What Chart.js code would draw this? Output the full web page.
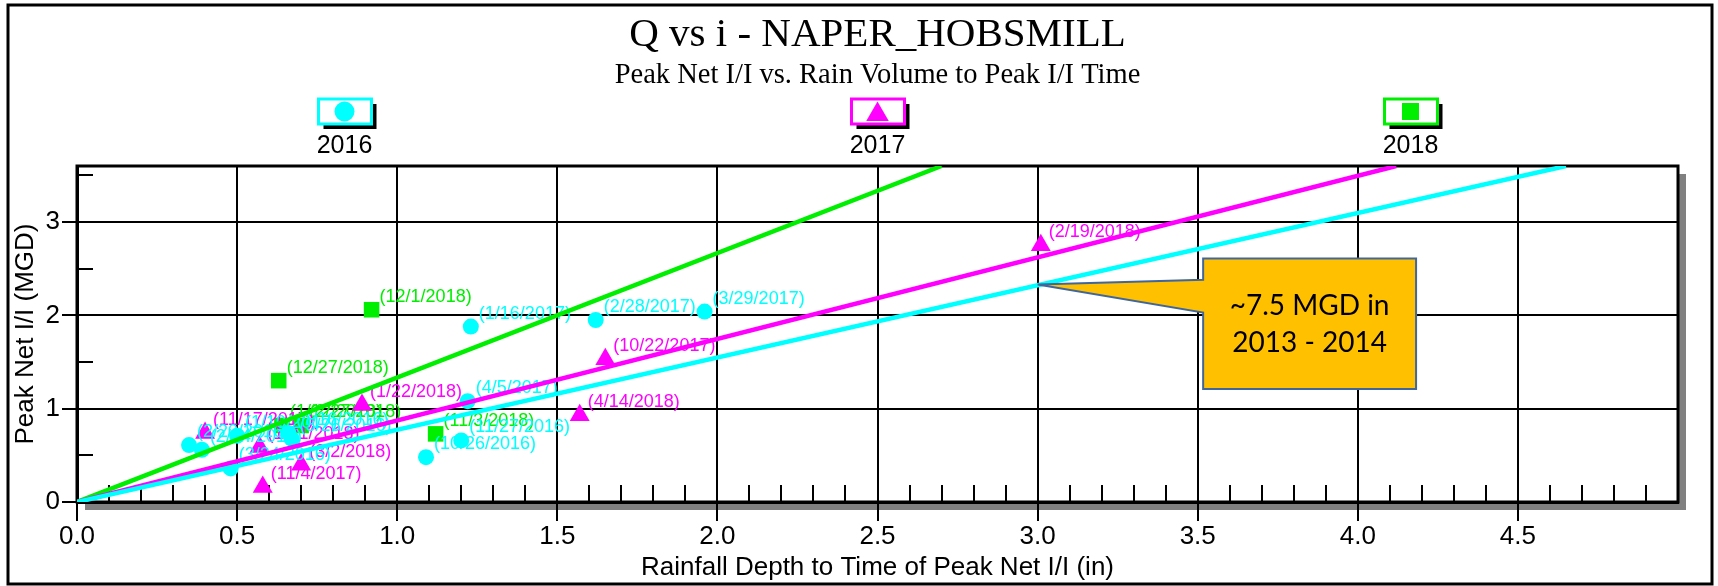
<!DOCTYPE html>
<html>
<head>
<meta charset="utf-8">
<script src="https://cdn.jsdelivr.net/npm/chart.js@4/dist/chart.umd.min.js"></script>
<style>
  html, body { margin: 0; padding: 0; background: #fff; }
  canvas { display: block; }
</style>
</head>
<body>
<canvas id="qvsi" width="1718" height="586"></canvas>
<script>
// Peak Net I/I vs rainfall depth, one series per year
const x2016 = [0.35, 0.39, 0.48, 0.50, 0.66, 0.67, 1.09, 1.20, 1.22, 1.23, 1.62, 1.96];
const y2016 = [0.61, 0.56, 0.36, 0.71, 0.74, 0.68, 0.48, 0.66, 1.08, 1.88, 1.95, 2.04];
const labels2016 = ['(2/20/2016)', '(2/24/2016)', '(3/24/2016)', '(1/10/2017)', '(7/16/2016)', '(5/26/2016)',
    '(10/26/2016)', '(11/27/2016)', '(4/5/2017)', '(1/16/2017)', '(2/28/2017)', '(3/29/2017)'];

const x2017 = [0.40, 0.57, 0.58, 0.70, 0.89, 1.57, 1.65, 3.01];
const y2017 = [0.74, 0.59, 0.16, 0.40, 1.04, 0.93, 1.53, 2.75];
const labels2017 = ['(11/17/2017)', '(1/21/2018)', '(11/4/2017)', '(3/2/2018)', '(1/22/2018)',
    '(4/14/2018)', '(10/22/2017)', '(2/19/2018)'];

const x2018 = [0.63, 0.64, 0.70, 0.92, 1.12];
const y2018 = [1.30, 0.82, 0.82, 2.06, 0.73];
const labels2018 = ['(12/27/2018)', '(1/12/2018)', '(2/27/2018)', '(12/1/2018)', '(11/3/2018)'];

const fit2016 = {x: [0, 4.65], y: [0, 3.6]};
const fit2017 = {x: [0, 4.12], y: [0, 3.6]};
const fit2018 = {x: [0, 2.70], y: [0, 3.6]};

const years = ['2016', '2017', '2018'];
const xTicks = {min: 0, max: 5, step: 0.5};
const yTicks = {min: 0, max: 3.6, step: 1};

// callout: box corners, pointer base and tip, in data units
const calloutText = ['~7.5 MGD in', '2013 - 2014'];
const calloutBox = {x0: 3.517, x1: 4.182, y0: 2.61, y1: 1.212};
const calloutBase = [2.38, 2.03];
const calloutTip = {x: 3.0, y: 2.33};

const CYAN = '#00FFFF';
const MAGENTA = '#FF00FF';
const GREEN = '#00EE00';
const SANS = '"Liberation Sans", Arial, sans-serif';
const SERIF = '"Liberation Serif", "Times New Roman", serif';

function pts(xs, ys) {
    return xs.map((x, i) => ({x: x, y: ys[i]}));
}

function scatterSet(name, xs, ys, labels, color, style, radius, legendRadius) {
    return {
        label: name,
        type: 'scatter',
        data: pts(xs, ys),
        pointLabels: labels,
        legendRadius: legendRadius,
        pointStyle: style,
        pointRadius: radius,
        pointHoverRadius: radius,
        backgroundColor: color,
        borderColor: color,
        borderWidth: 0,
        order: 2
    };
}

function fitSet(fit, color) {
    return {
        type: 'line',
        data: pts(fit.x, fit.y),
        borderColor: color,
        borderWidth: 4.5,
        pointRadius: 0,
        fill: false,
        order: 1
    };
}

const decor = {
    id: 'decor',
    beforeDraw(chart) {
        const {ctx, chartArea: a} = chart;
        ctx.save();
        ctx.fillStyle = '#fff';
        ctx.fillRect(0, 0, chart.width, chart.height);
        // plot shadow
        ctx.fillStyle = '#808080';
        ctx.fillRect(a.right, a.top + 8, 8, a.bottom - a.top);
        ctx.fillRect(a.left + 8, a.bottom, a.right - a.left, 8);
        ctx.fillStyle = '#fff';
        ctx.fillRect(a.left, a.top, a.right - a.left, a.bottom - a.top);
        ctx.restore();
    },
    beforeDatasetsDraw(chart) {
        const {ctx, chartArea: a, scales} = chart;
        ctx.save();
        ctx.strokeStyle = '#000';
        ctx.lineWidth = 2;
        // minor ticks on x every 0.1
        for (let i = 1; i < 50; i++) {
            if (i % 5 === 0) continue;
            const px = Math.round(scales.x.getPixelForValue(i / 10));
            ctx.beginPath();
            ctx.moveTo(px, a.bottom);
            ctx.lineTo(px, a.bottom - 17);
            ctx.stroke();
        }
        // minor ticks on y every 0.5
        for (let v = 0.5; v < yTicks.max; v += 1) {
            const py = Math.round(scales.y.getPixelForValue(v));
            ctx.beginPath();
            ctx.moveTo(a.left, py);
            ctx.lineTo(a.left + 16, py);
            ctx.stroke();
        }
        ctx.lineWidth = 3;
        ctx.strokeRect(a.left, a.top, a.right - a.left, a.bottom - a.top);
        ctx.restore();
    },
    afterDatasetDraw(chart, args) {
        const ds = chart.data.datasets[args.index];
        if (!ds.pointLabels) return;
        const ctx = chart.ctx;
        ctx.save();
        ctx.font = '18px ' + SANS;
        ctx.fillStyle = ds.borderColor;
        ctx.textAlign = 'left';
        ctx.textBaseline = 'middle';
        args.meta.data.forEach((pt, i) => {
            ctx.fillText(ds.pointLabels[i], pt.x + 8, pt.y - 13);
        });
        ctx.restore();
    },
    afterDraw(chart) {
        const {ctx, chartArea: a, scales} = chart;
        const cx = (a.left + a.right) / 2;
        const cy = (a.top + a.bottom) / 2;
        ctx.save();

        // titles
        ctx.fillStyle = '#000';
        ctx.textAlign = 'center';
        ctx.textBaseline = 'alphabetic';
        ctx.font = '41px ' + SERIF;
        ctx.fillText('Q vs i - NAPER_HOBSMILL', cx, 46);
        ctx.font = '28.5px ' + SERIF;
        ctx.fillText('Peak Net I/I vs. Rain Volume to Peak I/I Time', cx, 83);

        // axis titles
        ctx.font = '26px ' + SANS;
        ctx.fillText('Rainfall Depth to Time of Peak Net I/I (in)', cx, 575);
        ctx.save();
        ctx.translate(33, cy);
        ctx.rotate(-Math.PI / 2);
        ctx.fillText('Peak Net I/I (MGD)', 0, 0);
        ctx.restore();

        // legend: boxes with shadow, year below
        const sets = chart.data.datasets.filter(d => d.pointLabels);
        sets.forEach((ds, i) => {
            const lx = cx + (i - 1) * 533;
            const bx = lx - 26, by = 99, bw = 53, bh = 25;
            ctx.fillStyle = '#000';
            ctx.fillRect(bx + 5, by + 5, bw, bh);
            ctx.fillStyle = '#fff';
            ctx.fillRect(bx, by, bw, bh);
            ctx.strokeStyle = ds.borderColor;
            ctx.lineWidth = 3;
            ctx.strokeRect(bx, by, bw, bh);
            ctx.fillStyle = ds.borderColor;
            Chart.helpers.drawPoint(ctx, {pointStyle: ds.pointStyle, radius: ds.legendRadius, rotation: 0, borderWidth: 0},
                lx, by + bh / 2 + (ds.pointStyle === 'triangle' ? 3 : 0));
            ctx.fillStyle = '#000';
            ctx.font = '25px ' + SANS;
            ctx.textAlign = 'center';
            ctx.fillText(ds.label, lx, 153);
        });

        // callout
        const X = v => scales.x.getPixelForValue(v);
        const Y = v => scales.y.getPixelForValue(v);
        const b = calloutBox;
        ctx.beginPath();
        ctx.moveTo(X(b.x0), Y(b.y0));
        ctx.lineTo(X(b.x1), Y(b.y0));
        ctx.lineTo(X(b.x1), Y(b.y1));
        ctx.lineTo(X(b.x0), Y(b.y1));
        ctx.lineTo(X(b.x0), Y(calloutBase[1]));
        ctx.lineTo(X(calloutTip.x), Y(calloutTip.y));
        ctx.lineTo(X(b.x0), Y(calloutBase[0]));
        ctx.closePath();
        ctx.fillStyle = '#FFC000';
        ctx.fill();
        ctx.strokeStyle = '#41669C';
        ctx.lineWidth = 2;
        ctx.stroke();
        ctx.fillStyle = '#000';
        ctx.font = '28px Lato, "Open Sans", sans-serif';
        ctx.textAlign = 'center';
        ctx.textBaseline = 'middle';
        const tx = (X(b.x0) + X(b.x1)) / 2;
        const ty = (Y(b.y0) + Y(b.y1)) / 2;
        ctx.fillText(calloutText[0], tx, ty - 18);
        ctx.fillText(calloutText[1], tx, ty + 19);

        // outer frame
        ctx.strokeStyle = '#000';
        ctx.lineWidth = 3;
        ctx.strokeRect(8, 5, 1704, 579);
        ctx.restore();
    }
};

Chart.defaults.font.family = SANS;
Chart.defaults.color = '#000';

const chart = new Chart(document.getElementById('qvsi').getContext('2d'), {
    type: 'scatter',
    data: {
        datasets: [
            scatterSet(years[0], x2016, y2016, labels2016, CYAN, 'circle', 8, 10),
            scatterSet(years[1], x2017, y2017, labels2017, MAGENTA, 'triangle', 11.5, 13),
            scatterSet(years[2], x2018, y2018, labels2018, GREEN, 'rect', 11, 12),
            fitSet(fit2016, CYAN),
            fitSet(fit2017, MAGENTA),
            fitSet(fit2018, GREEN)
        ]
    },
    options: {
        responsive: false,
        animation: false,
        devicePixelRatio: 1,
        layout: { padding: { top: 166, right: 40, left: 0, bottom: 0 } },
        plugins: {
            legend: { display: false },
            tooltip: { enabled: false },
            title: { display: false }
        },
        scales: {
            x: {
                type: 'linear',
                min: xTicks.min,
                max: xTicks.max,
                afterFit: s => { s.height = 84; },
                afterBuildTicks: s => { s.ticks = s.ticks.filter(t => t.value < xTicks.max); },
                ticks: {
                    stepSize: xTicks.step,
                    includeBounds: false,
                    padding: 0,
                    maxRotation: 0,
                    autoSkip: false,
                    font: { size: 26 },
                    callback: v => Number(v).toFixed(1)
                },
                grid: { color: '#000', lineWidth: 2, tickLength: 19, tickColor: '#000' },
                border: { display: true, color: '#000', width: 3 }
            },
            y: {
                type: 'linear',
                min: yTicks.min,
                max: yTicks.max,
                afterFit: s => { s.width = 77; },
                ticks: {
                    stepSize: yTicks.step,
                    includeBounds: false,
                    padding: 2,
                    font: { size: 26 },
                    callback: v => String(v)
                },
                grid: { color: '#000', lineWidth: 2, tickLength: 15, tickColor: '#000' },
                border: { display: true, color: '#000', width: 3 }
            }
        }
    },
    plugins: [decor]
});
</script>
</body>
</html>
